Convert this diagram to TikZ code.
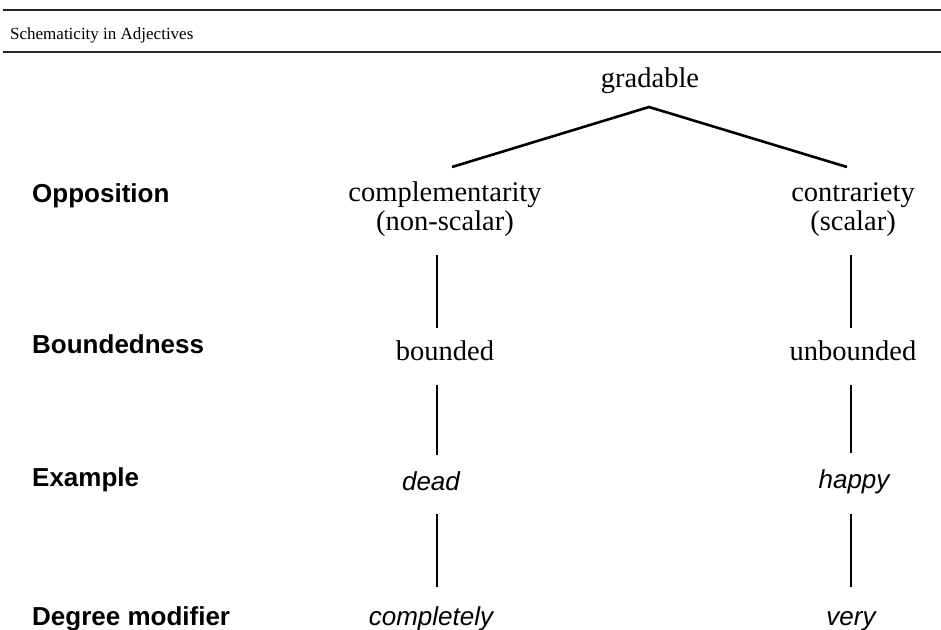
\documentclass[tikz,border=0pt]{standalone}
\usepackage{fontspec}
\setmainfont{Liberation Serif}
\newfontfamily\arialf{Liberation Sans}
\begin{document}
\begin{tikzpicture}[x=1pt,y=-1pt,
  serif/.style={inner sep=0pt,font=\fontsize{28.5}{29}\selectfont,align=center},
  lab/.style={inner sep=0pt,anchor=base west,font=\arialf\bfseries\fontsize{26}{28}\selectfont},
  ex/.style={inner sep=0pt,anchor=base,font=\arialf\itshape\fontsize{26}{28}\selectfont},
  rulel/.style={line width=1.8pt,black!85},
  branch/.style={line width=2.6pt},
  vline/.style={line width=2.6pt}]
\useasboundingbox (0,0) rectangle (941,629);
% rules and title
\coordinate (r1a) at (3,10);  \coordinate (r1b) at (941,10);
\coordinate (r2a) at (3,52);  \coordinate (r2b) at (941,52);
\draw[rulel] (r1a) -- (r1b);
\draw[rulel] (r2a) -- (r2b);
\node[inner sep=0pt,anchor=base west,font=\fontsize{17}{19}\selectfont] (title) at (10,39) {Schematicity in Adjectives};
% row labels
\node[lab] (lopp) at (32,202) {Opposition};
\node[lab] (lbnd) at (32,353) {Boundedness};
\node[lab] (lex) at (32,486) {Example};
\node[lab] (ldeg) at (32,625) {Degree modifier};
% tree nodes
\node[serif,anchor=base] (grad) at (650,87) {gradable};
\node[serif] (compl) at (445,209.5) {complementarity\\(non-scalar)};
\node[serif] (contr) at (853,209.5) {contrariety\\(scalar)};
\node[serif,anchor=base] (bnd) at (445,360) {bounded};
\node[serif,anchor=base] (unbnd) at (853,360) {unbounded};
\node[ex] (dead) at (431,490) {dead};
\node[ex] (happy) at (854,488) {happy};
\node[ex] (compl2) at (431,625) {completely};
\node[ex] (very) at (851,625) {very};
% branches
\coordinate (apex) at (649,107);
\coordinate (lend) at (452,167);
\coordinate (rend) at (847,167);
\draw[branch,line join=miter] (lend) -- (apex) -- (rend);
% verticals
\coordinate (a1) at (437,255); \coordinate (a2) at (437,328);
\coordinate (b1) at (851,255); \coordinate (b2) at (851,328);
\coordinate (a3) at (437,385); \coordinate (a4) at (437,455);
\coordinate (b3) at (851,385); \coordinate (b4) at (851,453);
\coordinate (a5) at (437,514); \coordinate (a6) at (437,587);
\coordinate (b5) at (851,514); \coordinate (b6) at (851,587);
\draw[vline] (a1) -- (a2);
\draw[vline] (b1) -- (b2);
\draw[vline] (a3) -- (a4);
\draw[vline] (b3) -- (b4);
\draw[vline] (a5) -- (a6);
\draw[vline] (b5) -- (b6);
\end{tikzpicture}
\end{document}
